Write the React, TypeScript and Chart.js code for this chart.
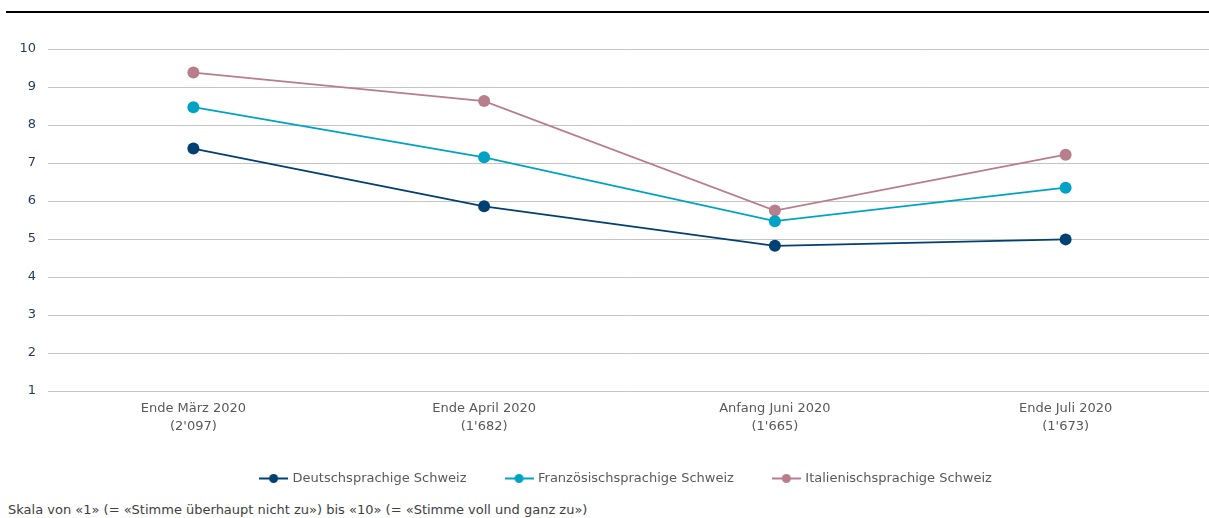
import React, { useEffect, useRef } from "react";
import { Chart, registerables } from "chart.js";

Chart.register(...registerables);

const categories: string[][] = [
  ["Ende März 2020", "(2'097)"],
  ["Ende April 2020", "(1'682)"],
  ["Anfang Juni 2020", "(1'665)"],
  ["Ende Juli 2020", "(1'673)"],
];
const seriesNames = [
  "Deutschsprachige Schweiz",
  "Französischsprachige Schweiz",
  "Italienischsprachige Schweiz",
];
const deutsch = [7.38, 5.86, 4.82, 4.99];
const franz = [8.47, 7.15, 5.47, 6.35];
const ital = [9.38, 8.63, 5.75, 7.22];
const colors = ["#004072", "#00A3C4", "#B87E8C"];
const yMin = 1;
const yMax = 10;
const footnote =
  "Skala von «1» (= «Stimme überhaupt nicht zu») bis «10» (= «Stimme voll und ganz zu»)";

const FONT = "'DejaVu Sans', Verdana, sans-serif";

function makeMarker(color: string): HTMLCanvasElement {
  const c = document.createElement("canvas");
  c.width = 29;
  c.height = 11;
  const ctx = c.getContext("2d")!;
  ctx.strokeStyle = color;
  ctx.lineWidth = 2;
  ctx.beginPath();
  ctx.moveTo(0, 5.5);
  ctx.lineTo(29, 5.5);
  ctx.stroke();
  ctx.fillStyle = color;
  ctx.beginPath();
  ctx.arc(14.5, 5.5, 4.5, 0, Math.PI * 2);
  ctx.fill();
  return c;
}

const legendShift = {
  id: "legendShift",
  beforeDraw(chart: any) {
    const lg = chart.legend;
    if (lg) {
      lg.left = 44;
      lg.right = 1209;
    }
  },
};

export default function App() {
  const ref = useRef<HTMLCanvasElement>(null);

  useEffect(() => {
    if (!ref.current) return;
    const markers = colors.map(makeMarker);
    const data = [deutsch, franz, ital];
    const chart = new Chart(ref.current, {
      type: "line",
      data: {
        labels: categories,
        datasets: seriesNames.map((name, i) => ({
          label: name,
          data: data[i],
          borderColor: colors[i],
          backgroundColor: colors[i],
          pointBackgroundColor: colors[i],
          pointBorderWidth: 0,
          pointRadius: 6,
          borderWidth: 1.75,
          tension: 0,
        })),
      },
      options: {
        animation: false,
        responsive: false,
        maintainAspectRatio: false,
        layout: { padding: { top: 49, left: 0, right: 0, bottom: 5 } },
        scales: {
          x: {
            offset: true,
            grid: { display: false, drawTicks: false },
            border: { display: false },
            ticks: {
              color: "#595959",
              font: { family: FONT, size: 13, lineHeight: 1.35 },
              padding: 9,
              maxRotation: 0,
              autoSkip: false,
            },
            afterFit: (s: any) => {
              s.height = 41;
            },
          },
          y: {
            min: yMin,
            max: yMax,
            grid: { color: "#C4C4C4", lineWidth: 1, drawTicks: false },
            border: { display: false },
            ticks: {
              stepSize: 1,
              color: "#1F3B5C",
              font: { family: FONT, size: 13 },
              padding: 12,
            },
            afterFit: (s: any) => {
              s.width = 48;
            },
          },
        },
        plugins: {
          title: { display: false },
          tooltip: { enabled: false },
          legend: {
            position: "bottom",
            labels: {
              usePointStyle: true,
              pointStyleWidth: 25,
              padding: 40,
              color: "#595959",
              font: { family: FONT, size: 13 },
              generateLabels: (c: any) => {
                const items = (Chart.defaults.plugins.legend.labels as any).generateLabels(c);
                items.forEach((it: any, i: number) => {
                  it.pointStyle = markers[i];
                });
                return items;
              },
            },
          },
        },
      },
      plugins: [legendShift],
    });
    return () => chart.destroy();
  }, []);

  return (
    <div
      style={{
        position: "fixed",
        left: 0,
        top: 0,
        width: 1209,
        height: 518,
        overflow: "hidden",
        background: "#fff",
      }}
    >
      <div
        style={{
          position: "absolute",
          left: 6,
          top: 11,
          width: 1203,
          height: 2,
          background: "#000",
        }}
      />
      <canvas
        ref={ref}
        width={1217}
        height={500}
        style={{ position: "absolute", left: 0, top: 0, width: 1217, height: 500 }}
      />
      <div
        style={{
          position: "absolute",
          left: 8,
          top: 502,
          fontFamily: FONT,
          fontSize: 13,
          color: "#404040",
          whiteSpace: "nowrap",
          lineHeight: "16px",
        }}
      >
        {footnote}
      </div>
    </div>
  );
}
